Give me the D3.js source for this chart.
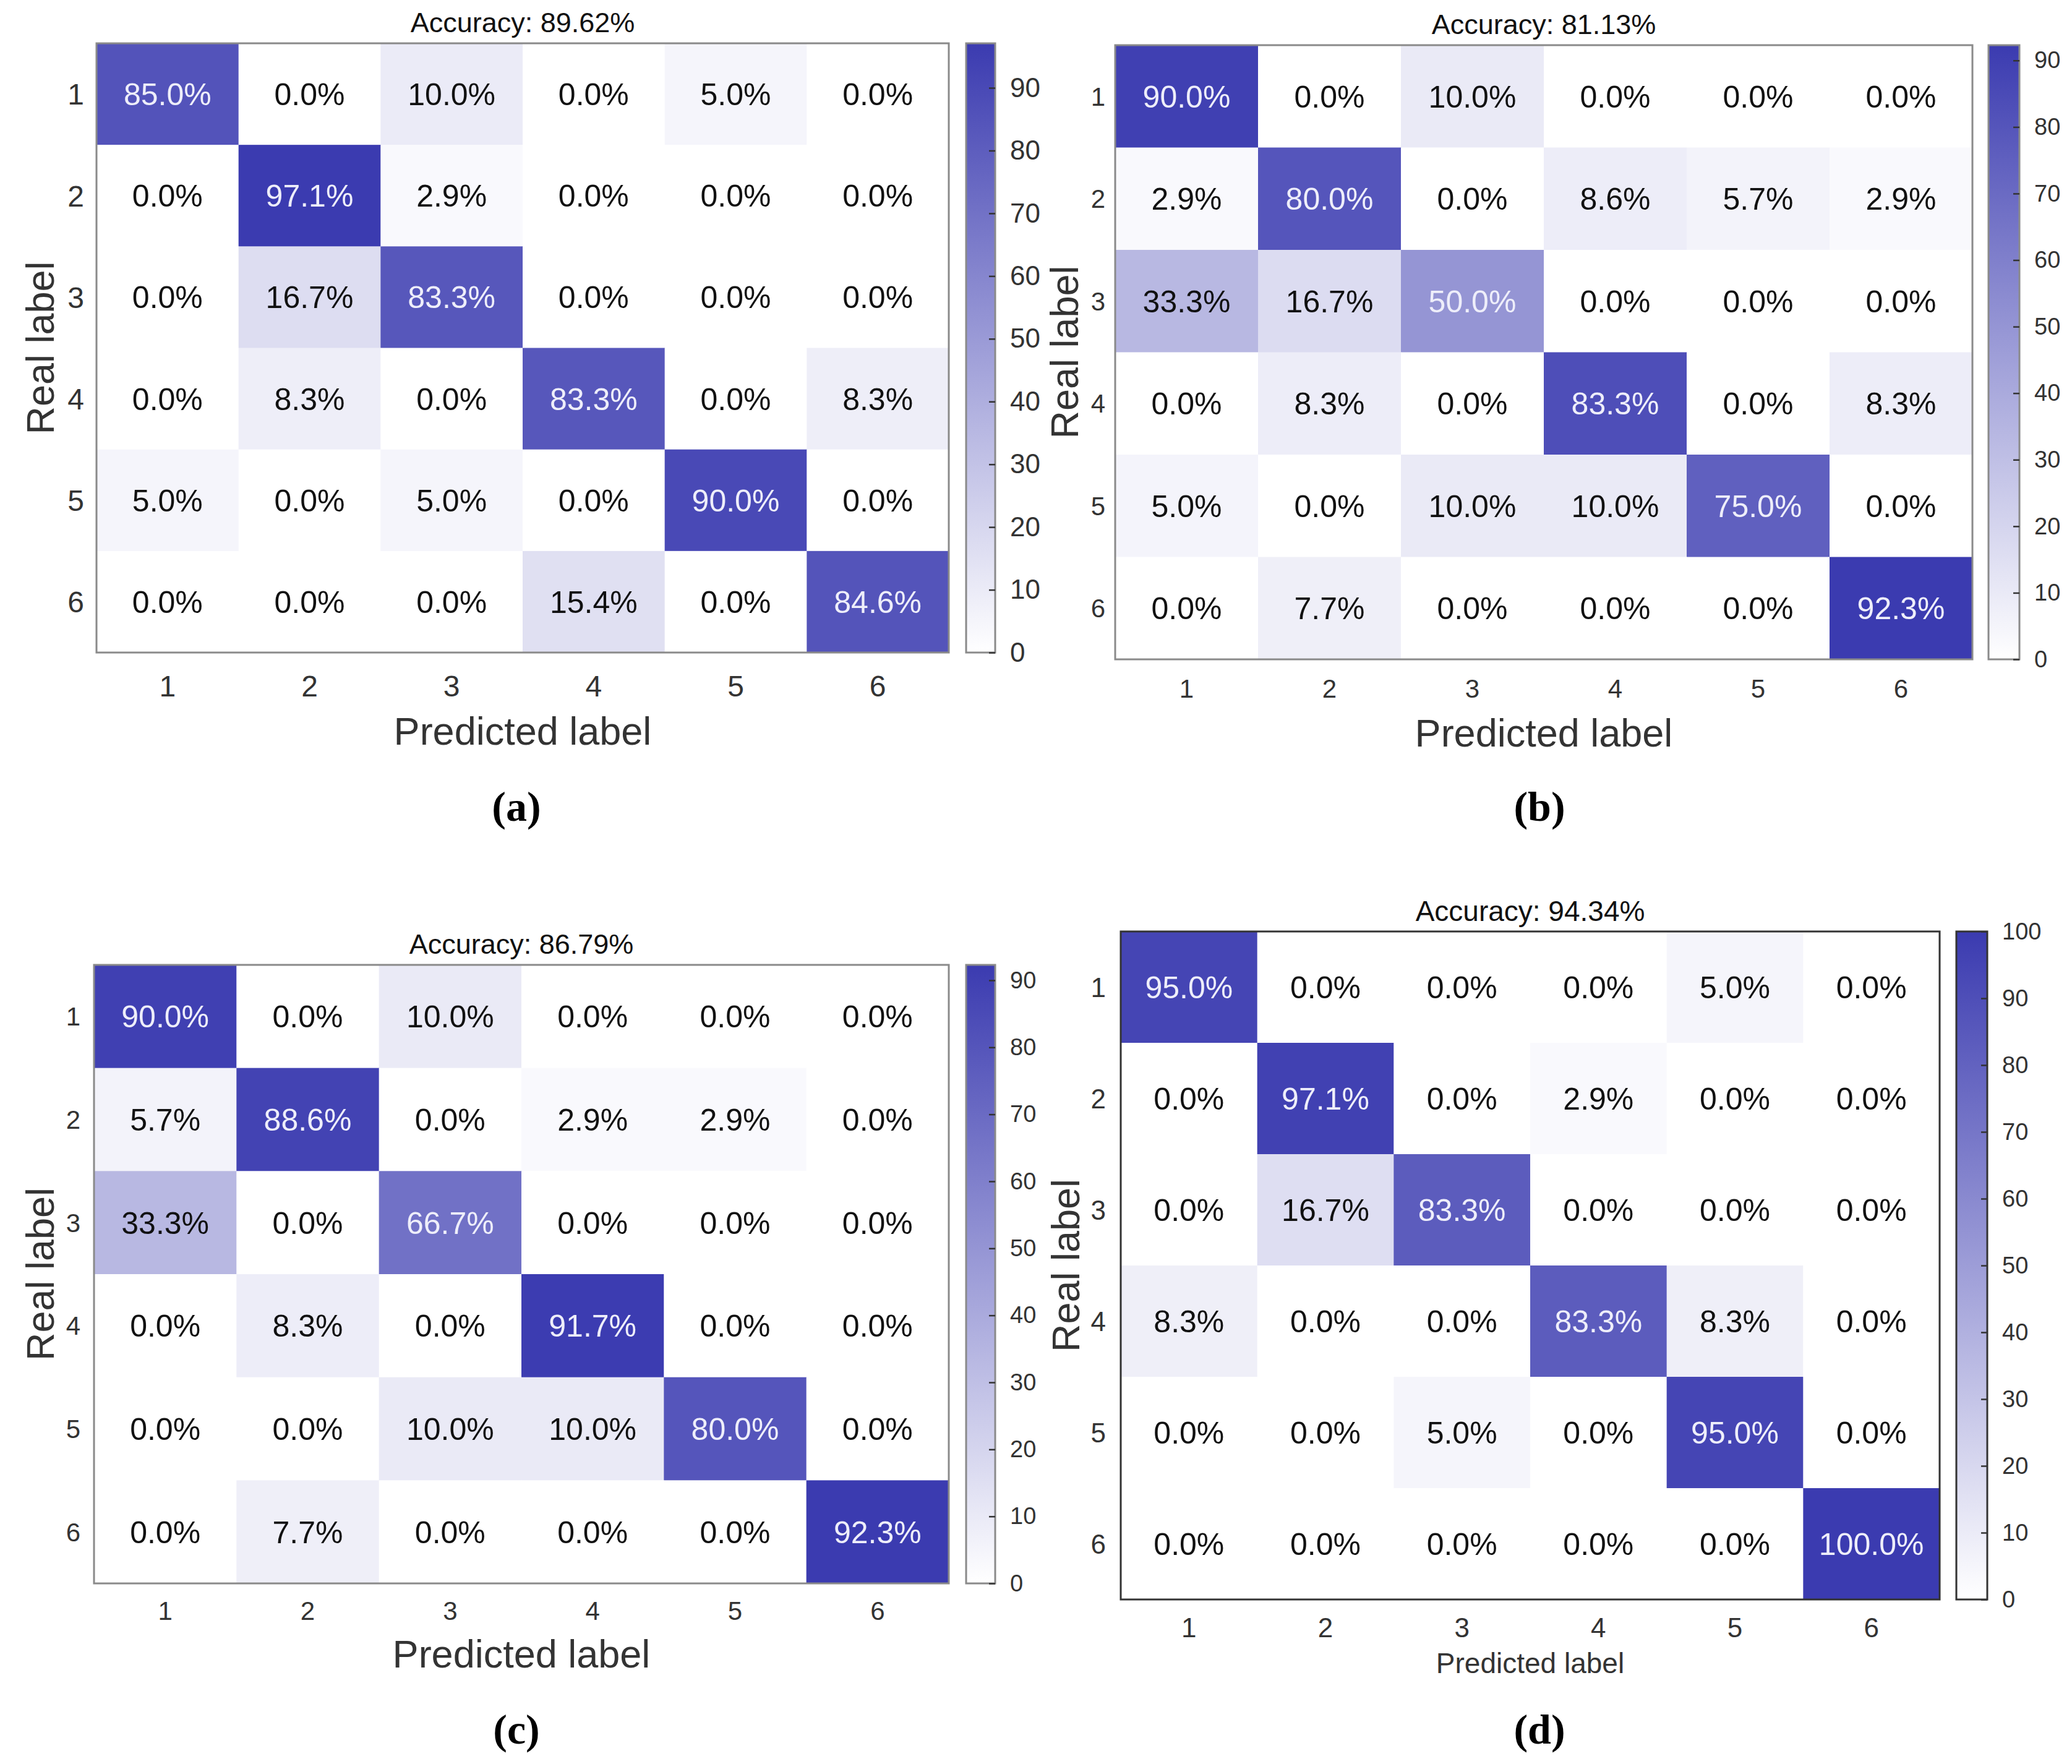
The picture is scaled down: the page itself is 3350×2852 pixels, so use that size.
<!DOCTYPE html>
<html>
<head>
<meta charset="utf-8">
<script src="https://cdn.jsdelivr.net/npm/d3@7"></script>
<style>
  body { margin: 0; background: #fff; }
  svg { display: block; }
</style>
</head>
<body>
<div id="chart"></div>
<script>
// class labels, shared by all four matrices
const classLabels = ['1', '2', '3', '4', '5', '6'];

// rows = real label, columns = predicted label (percent)
const matrixA = [
  [85.0, 0.0, 10.0, 0.0, 5.0, 0.0],
  [0.0, 97.1, 2.9, 0.0, 0.0, 0.0],
  [0.0, 16.7, 83.3, 0.0, 0.0, 0.0],
  [0.0, 8.3, 0.0, 83.3, 0.0, 8.3],
  [5.0, 0.0, 5.0, 0.0, 90.0, 0.0],
  [0.0, 0.0, 0.0, 15.4, 0.0, 84.6]
];
const matrixB = [
  [90.0, 0.0, 10.0, 0.0, 0.0, 0.0],
  [2.9, 80.0, 0.0, 8.6, 5.7, 2.9],
  [33.3, 16.7, 50.0, 0.0, 0.0, 0.0],
  [0.0, 8.3, 0.0, 83.3, 0.0, 8.3],
  [5.0, 0.0, 10.0, 10.0, 75.0, 0.0],
  [0.0, 7.7, 0.0, 0.0, 0.0, 92.3]
];
const matrixC = [
  [90.0, 0.0, 10.0, 0.0, 0.0, 0.0],
  [5.7, 88.6, 0.0, 2.9, 2.9, 0.0],
  [33.3, 0.0, 66.7, 0.0, 0.0, 0.0],
  [0.0, 8.3, 0.0, 91.7, 0.0, 0.0],
  [0.0, 0.0, 10.0, 10.0, 80.0, 0.0],
  [0.0, 7.7, 0.0, 0.0, 0.0, 92.3]
];
const matrixD = [
  [95.0, 0.0, 0.0, 0.0, 5.0, 0.0],
  [0.0, 97.1, 0.0, 2.9, 0.0, 0.0],
  [0.0, 16.7, 83.3, 0.0, 0.0, 0.0],
  [8.3, 0.0, 0.0, 83.3, 8.3, 0.0],
  [0.0, 0.0, 5.0, 0.0, 95.0, 0.0],
  [0.0, 0.0, 0.0, 0.0, 0.0, 100.0]
];
const accuracies = ['89.62', '81.13', '86.79', '94.34'];
const panelTags = ['(a)', '(b)', '(c)', '(d)'];
const matrices = [matrixA, matrixB, matrixC, matrixD];

const SANS = '"Liberation Sans", Arial, sans-serif';
const SERIF = '"Liberation Serif", "DejaVu Serif", serif';

// layout of each panel (pixels), kept apart from the data
const layout = [
  { x0: 156, x1: 1534, y0: 70, y1: 1055, cb0: 1562, cb1: 1609, tickFont: 44, labFont: 48, titleFont: 45,
    rowGap: 20, colGap: 54, predY: 1181, predFont: 63, realX: 64, border: '#8a8a8a', tagX: 835, tagY: 1303 },
  { x0: 1803, x1: 3189, y0: 73, y1: 1066, cb0: 3215, cb1: 3265, tickFont: 38, labFont: 42, titleFont: 45,
    rowGap: 16, colGap: 47, predY: 1184, predFont: 63, realX: 1720, border: '#8a8a8a', tagX: 2489, tagY: 1303 },
  { x0: 152, x1: 1534, y0: 1560, y1: 2560, cb0: 1562, cb1: 1609, tickFont: 38, labFont: 42, titleFont: 45,
    rowGap: 22, colGap: 44, predY: 2673, predFont: 63, realX: 64, border: '#8a8a8a', tagX: 835, tagY: 2795 },
  { x0: 1812, x1: 3136, y0: 1506, y1: 2586, cb0: 3163, cb1: 3213, tickFont: 38, labFont: 44, titleFont: 46,
    rowGap: 24, colGap: 45, predY: 2688, predFont: 46, realX: 1722, border: '#333333', tagX: 2489, tagY: 2795 }
];

const W = 3350, H = 2852;
const svg = d3.select('#chart').append('svg')
  .attr('width', W).attr('height', H)
  .attr('viewBox', `0 0 ${W} ${H}`)
  .attr('font-family', SANS);
svg.append('rect').attr('width', W).attr('height', H).attr('fill', '#fff');

const defs = svg.append('defs');

function drawPanel(i) {
  const data = matrices[i];
  const L = layout[i];
  const g = svg.append('g');
  const maxVal = d3.max(data.flat());

  const x = d3.scaleBand().domain(classLabels).range([L.x0, L.x1]);
  const y = d3.scaleBand().domain(classLabels).range([L.y0, L.y1]);
  const color = d3.scaleLinear().domain([0, maxVal]).range(['#ffffff', '#3b3bb0']);

  const cells = [];
  data.forEach((row, r) => row.forEach((v, c) => cells.push({ r: classLabels[r], c: classLabels[c], v })));

  g.selectAll('rect.cell').data(cells).join('rect')
    .attr('class', 'cell')
    .attr('x', d => x(d.c)).attr('y', d => y(d.r))
    .attr('width', x.bandwidth() + 0.5).attr('height', y.bandwidth() + 0.5)
    .attr('fill', d => color(d.v));

  g.selectAll('text.val').data(cells).join('text')
    .attr('class', 'val')
    .attr('x', d => x(d.c) + x.bandwidth() / 2)
    .attr('y', d => y(d.r) + y.bandwidth() / 2)
    .attr('dy', '0.36em')
    .attr('text-anchor', 'middle')
    .attr('font-size', 50)
    .attr('fill', d => d.v > maxVal / 2 ? '#eeeefa' : '#111')
    .text(d => d.v.toFixed(1) + '%');

  // frame
  g.append('rect')
    .attr('x', L.x0).attr('y', L.y0)
    .attr('width', L.x1 - L.x0).attr('height', L.y1 - L.y0)
    .attr('fill', 'none').attr('stroke', L.border).attr('stroke-width', 3);

  // axes labels
  g.selectAll('text.rowlab').data(classLabels).join('text')
    .attr('class', 'rowlab')
    .attr('x', L.x0 - L.rowGap)
    .attr('y', d => y(d) + y.bandwidth() / 2)
    .attr('dy', '0.36em')
    .attr('text-anchor', 'end')
    .attr('font-size', L.labFont)
    .attr('fill', '#333')
    .text(d => d);

  g.selectAll('text.collab').data(classLabels).join('text')
    .attr('class', 'collab')
    .attr('x', d => x(d) + x.bandwidth() / 2)
    .attr('y', L.y1 + L.colGap)
    .attr('dy', '0.36em')
    .attr('text-anchor', 'middle')
    .attr('font-size', L.labFont)
    .attr('fill', '#333')
    .text(d => d);

  const cx = (L.x0 + L.x1) / 2, cy = (L.y0 + L.y1) / 2;
  g.append('text')
    .attr('x', cx).attr('y', L.y0 - 34).attr('dy', '0.36em')
    .attr('text-anchor', 'middle').attr('font-size', L.titleFont).attr('fill', '#111')
    .text(`Accuracy: ${accuracies[i]}%`);

  g.append('text')
    .attr('x', cx).attr('y', L.predY).attr('dy', '0.36em')
    .attr('text-anchor', 'middle').attr('font-size', L.predFont).attr('fill', '#333')
    .text('Predicted label');

  g.append('text')
    .attr('transform', `translate(${L.realX},${cy}) rotate(-90)`)
    .attr('dy', '0.36em')
    .attr('text-anchor', 'middle').attr('font-size', 63).attr('fill', '#333')
    .text('Real label');

  // colour bar
  const gid = 'grad' + i;
  const grad = defs.append('linearGradient').attr('id', gid)
    .attr('x1', 0).attr('y1', 1).attr('x2', 0).attr('y2', 0);
  grad.append('stop').attr('offset', '0%').attr('stop-color', color(0));
  grad.append('stop').attr('offset', '100%').attr('stop-color', color(maxVal));

  const cbScale = d3.scaleLinear().domain([0, maxVal]).range([L.y1, L.y0]);
  g.append('rect')
    .attr('x', L.cb0).attr('y', L.y0)
    .attr('width', L.cb1 - L.cb0).attr('height', L.y1 - L.y0)
    .attr('fill', `url(#${gid})`)
    .attr('stroke', L.border).attr('stroke-width', 3);

  const tickVals = d3.range(0, maxVal + 0.01, 10);
  const axis = d3.axisRight(cbScale).tickValues(tickVals)
    .tickSizeInner(-10).tickSizeOuter(0).tickPadding(24)
    .tickFormat(d3.format('d'));
  const ax = g.append('g').attr('transform', `translate(${L.cb1},0)`).call(axis);
  ax.attr('font-family', SANS);
  ax.select('.domain').remove();
  ax.selectAll('line').attr('stroke', '#333').attr('stroke-width', 2.5);
  ax.selectAll('text').attr('font-size', L.tickFont).attr('fill', '#333');

  // panel tag
  g.append('text')
    .attr('x', L.tagX).attr('y', L.tagY).attr('dy', '0.36em')
    .attr('text-anchor', 'middle').attr('font-size', 68)
    .attr('font-family', SERIF).attr('font-weight', 'bold')
    .attr('fill', '#000')
    .text(panelTags[i]);
}

matrices.forEach((m, i) => drawPanel(i));
</script>
</body>
</html>
